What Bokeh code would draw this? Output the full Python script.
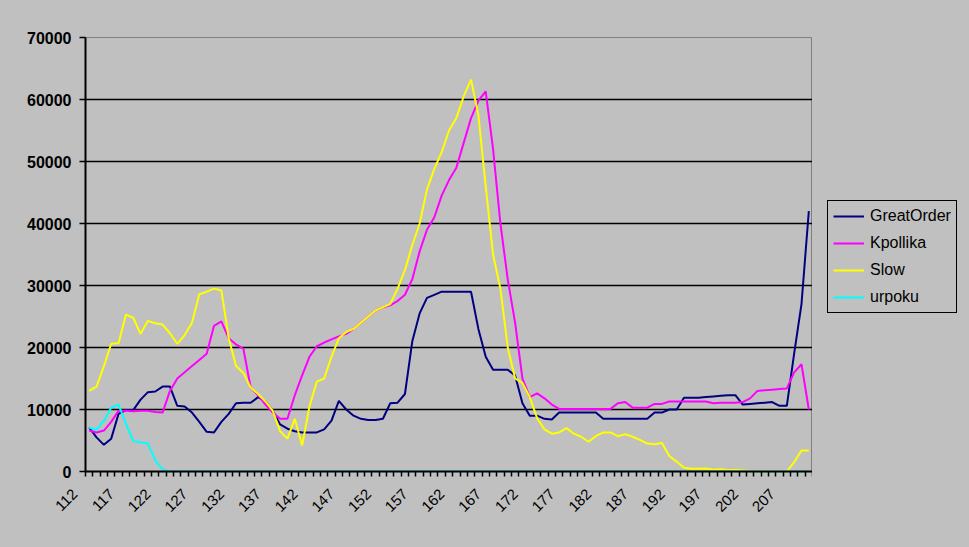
import math
from bokeh.plotting import figure
from bokeh.layouts import row
from bokeh.models import FixedTicker, Legend, LegendItem, Range1d
from bokeh.embed import file_html
from bokeh.resources import INLINE

days = list(range(112, 211))
x_tick_labels = [112, 117, 122, 127, 132, 137, 142, 147, 152, 157, 162, 167, 172, 177, 182, 187, 192, 197, 202, 207]
y_ticks = [0, 10000, 20000, 30000, 40000, 50000, 60000, 70000]

great_order = [7100, 5500, 4300, 5300, 9300, 9900, 9900, 11600, 12800, 12900, 13700, 13700,
               10600, 10500, 9500, 8000, 6400, 6300, 8000, 9300, 11000, 11100, 11100, 12000, 11300, 9800, 7600,
               6900, 6500, 6300, 6300, 6300, 6800, 8200, 11400, 10000, 9000, 8500, 8300, 8300, 8500, 11000, 11100, 12500,
               21000, 25500, 28000, 28500, 29000, 29000, 29000, 29000, 29000, 23000, 18500, 16400, 16400, 16400, 15500,
               11000, 9000, 9000, 8500, 8400, 9500, 9500, 9500, 9500, 9500, 9500, 8500, 8500, 8500, 8500, 8500, 8500, 8500, 9500, 9500,
               10000, 10000, 11900, 11900, 11900, 12000, 12100, 12200, 12300, 12300, 10800, 10900, 11000, 11100, 11200, 10600, 10600, 19000, 27000, 42000]

kpollika = [6600, 6300, 6600, 8000, 9800, 9800, 9700, 9800, 9800, 9600, 9500,
            13000, 15000, 16000, 17000, 18000, 19000, 23500, 24200, 21500, 20500, 19800, 13500, 12300, 10800, 9500, 8500, 8500,
            12300, 15500, 18500, 20200, 20800, 21300, 21800, 22200, 23000, 24000, 25000, 26000, 26500, 26800, 27500, 28500,
            31000, 35500, 39000, 41000, 44500, 47000, 49000, 53000, 57000, 59800, 61300, 52000, 40000, 31000, 24000, 15000,
            12000, 12600, 11800, 10800, 10100, 10100, 10100, 10100, 10100, 10100, 10100, 10100, 11000, 11200, 10300, 10300, 10300, 10900, 10900,
            11300, 11300, 11300, 11300, 11300, 11300, 11000, 11100, 11100, 11100, 11200, 11800, 13000, 13100, 13200, 13300, 13400, 16000, 17300, 10000]

slow = [13000, 13700, 17000, 20600, 20700, 25300, 24800, 22200, 24300, 23900,
        23700, 22300, 20600, 22000, 24000, 28600, 29000, 29500, 29200, 21500, 17000, 15900, 13500, 12500, 11300, 9800, 6500, 5300,
        8500, 4200, 10500, 14500, 15000, 18500, 21500, 22500, 23000, 24000, 25000, 26000, 26500, 27000, 29500, 32500,
        36500, 40000, 45500, 48800, 51500, 55000, 57000, 60500, 63200, 57500, 46000, 35000, 29500, 20000, 15000, 14300,
        12000, 8600, 6800, 6100, 6300, 7000, 6100, 5600, 4800, 5700, 6300, 6300, 5700, 6000, 5600, 5100, 4500, 4400, 4600,
        2500, 1600, 600, 450, 450, 500, 300, 350, 200, 250, 150, 100, 50, 0, 0, 0, 0, 1500, 3400, 3400]

urpoku = [7100, 6700, 8200, 10300, 10800, 7700, 4900, 4700, 4500, 1800, 300, 0,
          0, 0, 0, 0, 0, 0, 0, 0, 0, 0, 0, 0, 0, 0, 0, 0, 0, 0, 0, 0, 0, 0, 0, 0, 0, 0, 0, 0,
          0, 0, 0, 0, 0, 0, 0, 0, 0, 0, 0, 0, 0, 0, 0, 0, 0, 0, 0, 0, 0, 0, 0, 0, 0, 0, 0, 0,
          0, 0, 0, 0, 0, 0, 0, 0, 0, 0, 0, 0, 0, 0, 0, 0, 0, 0, 0, 0, 0, 0, 0, 0, 0, 0, 0, 0, 0, 0, 0]

series_names = ["GreatOrder", "Kpollika", "Slow", "urpoku"]
series_colors = ["#000080", "#FF00FF", "#FFFF00", "#00FFFF"]
series_values = [great_order, kpollika, slow, urpoku]

BG = "#C0C0C0"
FONT = "Liberation Sans"

p = figure(frame_width=727, frame_height=434, output_backend="svg", toolbar_location=None,
           x_range=Range1d(days[0] - 0.5, days[-1] + 0.5), y_range=Range1d(0, 70000),
           min_border_left=85, min_border_right=0, min_border_top=37, min_border_bottom=76)
p.background_fill_color = BG
p.border_fill_color = BG
p.outline_line_color = "#808080"
p.outline_line_width = 1

for col, vals in zip(series_colors, series_values):
    p.line(days, vals, line_color=col, line_width=2)

# y axis
p.yaxis.ticker = FixedTicker(ticks=y_ticks)
p.yaxis.minor_tick_line_color = None
p.yaxis.major_tick_out = 6
p.yaxis.major_tick_in = 0
p.yaxis.major_tick_line_color = "black"
p.yaxis.major_tick_line_width = 1.5
p.yaxis.axis_line_color = "black"
p.yaxis.axis_line_width = 2
p.yaxis.major_label_text_font = FONT
p.yaxis.major_label_text_font_style = "bold"
p.yaxis.major_label_text_font_size = "16px"
p.yaxis.major_label_text_color = "black"
p.yaxis.major_label_standoff = 8

# x axis: tick marks between categories, rotated labels set back like Excel's
p.xaxis.ticker = FixedTicker(ticks=x_tick_labels, minor_ticks=[d - 0.5 for d in days] + [days[-1] + 0.5])
p.xaxis.major_label_overrides = {t: str(t) + "\u00a0" * 5 for t in x_tick_labels}
p.xaxis.major_tick_line_color = None
p.xaxis.minor_tick_out = 5
p.xaxis.minor_tick_in = 0
p.xaxis.minor_tick_line_color = "black"
p.xaxis.minor_tick_line_width = 1.5
p.xaxis.axis_line_color = "black"
p.xaxis.axis_line_width = 2
p.xaxis.major_label_orientation = math.pi / 4
p.xaxis.major_label_text_font = FONT
p.xaxis.major_label_text_font_size = "15px"
p.xaxis.major_label_text_color = "black"
p.xaxis.major_label_standoff = -1

p.xgrid.visible = False
p.ygrid.ticker = FixedTicker(ticks=y_ticks[1:-1])
p.ygrid.grid_line_color = "black"
p.ygrid.grid_line_width = 1.5

# legend panel to the right of the plot (series drawn out of its view, only the keys show)
lg = figure(width=157, height=547, output_backend="svg", toolbar_location=None,
            x_range=Range1d(0, 1), y_range=Range1d(0, 1),
            min_border_left=0, min_border_right=0, min_border_top=37, min_border_bottom=76)
lg.axis.visible = False
lg.grid.visible = False
lg.outline_line_color = None
lg.background_fill_color = BG
lg.border_fill_color = BG

items = []
for name, col, vals in zip(series_names, series_colors, series_values):
    r = lg.line(days, vals, line_color=col, line_width=2)
    items.append(LegendItem(label=name, renderers=[r]))

legend = Legend(items=items, location=(15, 158),
                background_fill_color=BG, background_fill_alpha=1.0,
                border_line_color="black", border_line_width=1.5, border_line_alpha=1.0,
                label_text_font=FONT, label_text_font_size="16px", label_text_color="black",
                glyph_width=31, glyph_height=20, label_height=20, label_standoff=6,
                spacing=7, padding=5)
lg.add_layout(legend)

layout = row(p, lg, spacing=0)

html = file_html(layout, INLINE)
html = html.replace("<head>", "<head><style>body{background:#C0C0C0;}</style>", 1)
open("out.html", "w").write(html)
